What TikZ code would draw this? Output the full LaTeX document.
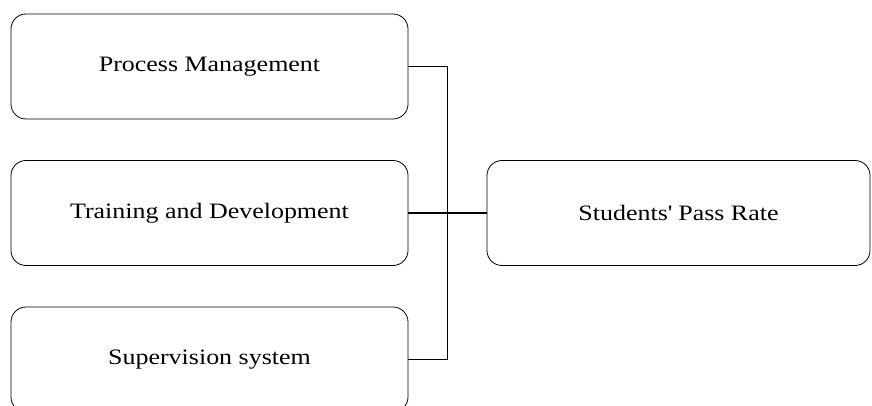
\documentclass[tikz,border=0pt]{standalone}
\usepackage{fontspec}
\setmainfont[FakeStretch=1.18]{Liberation Serif}
\tikzset{factor/.style={draw,line width=0.8pt,rounded corners=15pt,minimum width=397pt,minimum height=105pt,font=\fontsize{22}{26}\selectfont},
  result/.style={factor,minimum width=383pt},
  link/.style={line width=1.2pt}}

\begin{document}
\begin{tikzpicture}[x=1pt,y=-1pt]
        % page frame
        \clip (0,0) rectangle (872,406);
        \useasboundingbox (0,0) rectangle (872,406);
        % the factors
        \node[factor] (pm) at (209.5,66.5) {Process Management};
        \node[factor] (td) at (209.5,213) {Training and Development};
        \node[factor] (ss) at (209.5,359.5) {Supervision system};
        % the outcome
        \node[result] (pr) at (678.5,213) {Students\textquotesingle\ Pass Rate};
        % connect them
        \coordinate (j) at (447.5,213);
        \draw[link] (pm.east) -| (j) |- (ss.east);
        \draw[link] (td.east) -- (pr.west);
    \end{tikzpicture}
\end{document}
